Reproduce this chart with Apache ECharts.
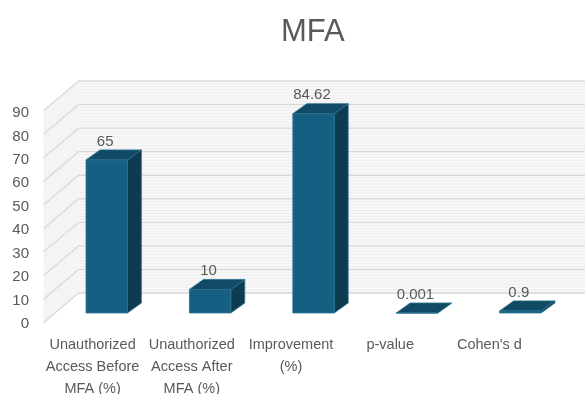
<!DOCTYPE html>
<html>
<head>
<meta charset="utf-8">
<title>MFA</title>
<script src="https://cdn.jsdelivr.net/npm/echarts@6/dist/echarts.min.js"></script>
</head>
<body style="margin:0">
<div id="main" style="width:585px;height:394px;"></div>
<script type="text/javascript">
var categories = ['Unauthorized\nAccess Before\nMFA (%)', 'Unauthorized\nAccess After\nMFA (%)', 'Improvement\n(%)', 'p-value', "Cohen's d"];
var values = [65, 10, 84.62, 0.001, 0.9];
var yMin = 0, yMax = 90, yStep = 10;

var textColor = '#595959';
var fontFam = 'Liberation Sans, Arial, sans-serif';

// oblique "3D" offsets, relative to the plane the bar fronts stand in
var barDepth = [14, -10];
var backOff = [23.6, -20];
var frontOff = [-11.4, 9.7];

function renderWalls(params, api) {
    var cs = params.coordSys;
    var left = cs.x;
    var right = cs.x + cs.width;
    var y0 = api.coord([0, yMin])[1];
    var y1 = api.coord([0, yMax])[1];
    var kids = [];
    // back wall + left wall fill
    kids.push({
        type: 'polygon',
        shape: { points: [[left + backOff[0], y0 + backOff[1]], [right + backOff[0], y0 + backOff[1]], [right + backOff[0], y1 + backOff[1]], [left + backOff[0], y1 + backOff[1]]] },
        style: { fill: '#f8f8f8' }
    });
    kids.push({
        type: 'polygon',
        shape: { points: [[left + frontOff[0], y0 + frontOff[1]], [left + backOff[0], y0 + backOff[1]], [left + backOff[0], y1 + backOff[1]], [left + frontOff[0], y1 + frontOff[1]]] },
        style: { fill: '#f8f8f8' }
    });
    // fine stripes
    for (var m = yMin; m < yMax; m += 1.25) {
        var ym = api.coord([0, m])[1];
        kids.push({
            type: 'polyline',
            shape: { points: [[left + frontOff[0], ym + frontOff[1]], [left + backOff[0], ym + backOff[1]], [right + backOff[0], ym + backOff[1]]] },
            style: { stroke: '#ededed', lineWidth: 1, fill: 'none' }
        });
    }
    // main grid lines
    for (var v = yMin; v <= yMax; v += yStep) {
        var yv = api.coord([0, v])[1];
        kids.push({
            type: 'polyline',
            shape: { points: [[left + frontOff[0], yv + frontOff[1]], [left + backOff[0], yv + backOff[1]], [right + backOff[0], yv + backOff[1]]] },
            style: { stroke: '#d9d9d9', lineWidth: 1.4, fill: 'none' }
        });
    }
    return { type: 'group', children: kids };
}

function renderBar(params, api) {
    var idx = api.value(0);
    var val = api.value(1);
    var base = api.coord([idx, 0]);
    var top = api.coord([idx, val]);
    var w = api.size([1, 0])[0] * 0.4;
    var xa = base[0] - w / 2, xb = base[0] + w / 2;
    var yb = base[1], yt = top[1];
    var dx = barDepth[0], dy = barDepth[1];
    var edge = { stroke: '#2c7191', lineWidth: 0.8 };
    return {
        type: 'group',
        children: [
            {
                type: 'polygon',
                shape: { points: [[xb, yb], [xb + dx, yb + dy], [xb + dx, yt + dy], [xb, yt]] },
                style: { fill: '#0d3b50', stroke: edge.stroke, lineWidth: edge.lineWidth }
            },
            {
                type: 'polygon',
                shape: { points: [[xa, yt], [xb, yt], [xb + dx, yt + dy], [xa + dx, yt + dy]] },
                style: { fill: '#114a64', stroke: edge.stroke, lineWidth: edge.lineWidth }
            },
            {
                type: 'rect',
                shape: { x: xa, y: yt, width: w, height: yb - yt },
                style: { fill: '#156082', stroke: edge.stroke, lineWidth: edge.lineWidth }
            },
            {
                type: 'text',
                style: {
                    text: String(values[idx]),
                    x: base[0] - 1.5,
                    y: yt + dy - 1,
                    align: 'center',
                    verticalAlign: 'bottom',
                    fill: textColor,
                    fontSize: 15,
                    fontFamily: fontFam
                }
            }
        ]
    };
}

var myChart = echarts.init(document.getElementById('main'));

var option = {
    animation: false,
    title: {
        text: 'MFA',
        left: 276,
        top: 12,
        textStyle: { color: textColor, fontSize: 31, fontWeight: 'normal', fontFamily: fontFam }
    },
    grid: [
        // front plane: axis labels
        { left: 43, right: 46, top: 113, bottom: 70, outerBoundsMode: 'none', containLabel: false },
        // plane of the bar fronts
        { left: 55, right: 13, top: 101, bottom: 81, outerBoundsMode: 'none', containLabel: false }
    ],
    xAxis: [
        {
            gridIndex: 0,
            type: 'category',
            data: categories,
            axisLine: { show: false },
            axisTick: { show: false },
            axisLabel: { interval: 0, color: textColor, fontSize: 14.5, lineHeight: 22, margin: 10, fontFamily: fontFam }
        },
        {
            gridIndex: 1,
            type: 'category',
            data: categories,
            show: false
        }
    ],
    yAxis: [
        {
            gridIndex: 0,
            type: 'value',
            min: yMin, max: yMax, interval: yStep,
            axisLine: { show: false },
            axisTick: { show: false },
            splitLine: { show: false },
            axisLabel: { color: textColor, fontSize: 15, margin: 14, fontFamily: fontFam }
        },
        {
            gridIndex: 1,
            type: 'value',
            min: yMin, max: yMax, interval: yStep,
            show: false,
            splitLine: { show: false }
        }
    ],
    series: [
        {
            type: 'custom',
            xAxisIndex: 1,
            yAxisIndex: 1,
            z: 1,
            silent: true,
            renderItem: renderWalls,
            data: [[0, 0]]
        },
        {
            type: 'custom',
            xAxisIndex: 1,
            yAxisIndex: 1,
            z: 2,
            renderItem: renderBar,
            data: values.map(function (v, i) { return [i, v]; })
        }
    ]
};

myChart.setOption(option);
</script>
</body>
</html>
